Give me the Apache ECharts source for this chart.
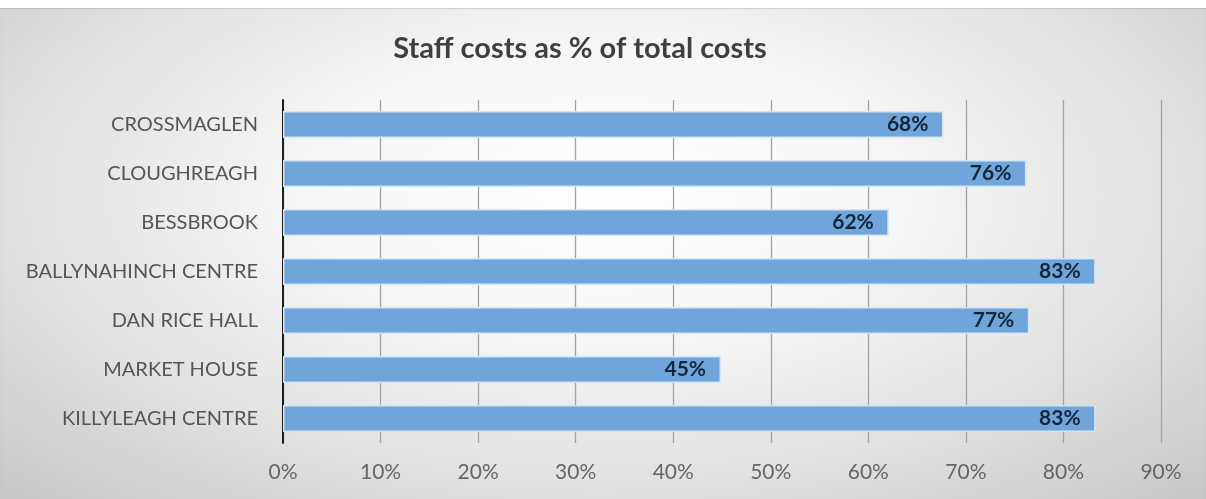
<!DOCTYPE html>
<html>
<head>
<meta charset="utf-8">
<script src="https://cdn.jsdelivr.net/npm/echarts@6/dist/echarts.min.js"></script>
<style>
  html, body { margin: 0; padding: 0; background: #ffffff; }
  #wrap { position: relative; width: 1206px; height: 499px; overflow: hidden; }
  #bg {
    position: absolute; left: 0; top: 8px; width: 1206px; height: 491px;
    background: radial-gradient(ellipse 70% 85% at 50% 38%, #ffffff 0%, #f6f6f6 35%, #e0e0e0 70%, #c8c8c8 100%);
    box-shadow: inset 0 1px 1px rgba(0,0,0,0.12);
  }
  #chart { position: absolute; left: 0; top: 0; width: 1206px; height: 499px; }
</style>
</head>
<body>
<div id="wrap">
  <div id="bg"></div>
  <div id="chart"></div>
</div>
<script>
// Venue names, top to bottom
const venues = [
  'CROSSMAGLEN',
  'CLOUGHREAGH',
  'BESSBROOK',
  'BALLYNAHINCH CENTRE',
  'DAN RICE HALL',
  'MARKET HOUSE',
  'KILLYLEAGH CENTRE'
];
// Staff costs as a percentage of total costs
const staffCostPct = [67.7, 76.2, 62.1, 83.3, 76.5, 44.9, 83.3];
// Horizontal axis range (percent)
const axisMin = 0;
const axisMax = 90;
const axisStep = 10;

const FONT = 'Lato, "Open Sans", sans-serif';
const chart = echarts.init(document.getElementById('chart'), null, { renderer: 'canvas' });

chart.setOption({
  backgroundColor: 'transparent',
  animation: false,
  textStyle: { fontFamily: FONT },
  title: {
    text: 'Staff costs as % of total costs',
    left: 575,
    top: 29,
    textAlign: 'center',
    textStyle: {
      fontFamily: FONT,
      fontSize: 29,
      fontWeight: 'bold',
      color: '#3f3f3f'
    }
  },
  grid: {
    left: 283,
    right: 45,
    top: 100,
    height: 343,
    containLabel: false
  },
  xAxis: {
    type: 'value',
    min: axisMin,
    max: axisMax,
    interval: axisStep,
    axisLine: { show: false },
    axisTick: { show: false },
    splitLine: { show: true, lineStyle: { color: '#a3a3a3', width: 1.3 } },
    axisLabel: {
      formatter: '{value}%',
      color: '#666666',
      fontSize: 21,
      margin: 19,
      fontFamily: FONT
    }
  },
  yAxis: {
    type: 'category',
    data: venues,
    inverse: true,
    axisLine: { show: true, lineStyle: { color: '#1e1e1e', width: 2 } },
    axisTick: { show: false },
    axisLabel: {
      color: '#555555',
      fontSize: 20,
      margin: 25,
      fontFamily: FONT
    }
  },
  series: [{
    type: 'bar',
    data: staffCostPct,
    barWidth: 27,
    itemStyle: {
      color: '#6fa5da',
      borderColor: '#d4e5f5',
      borderWidth: 1.5
    },
    label: {
      show: true,
      position: 'insideRight',
      distance: 15,
      formatter: p => Math.round(p.value) + '%',
      color: '#16263a',
      fontSize: 21,
      fontWeight: 'bold',
      fontFamily: FONT
    }
  }]
});
</script>
</body>
</html>
